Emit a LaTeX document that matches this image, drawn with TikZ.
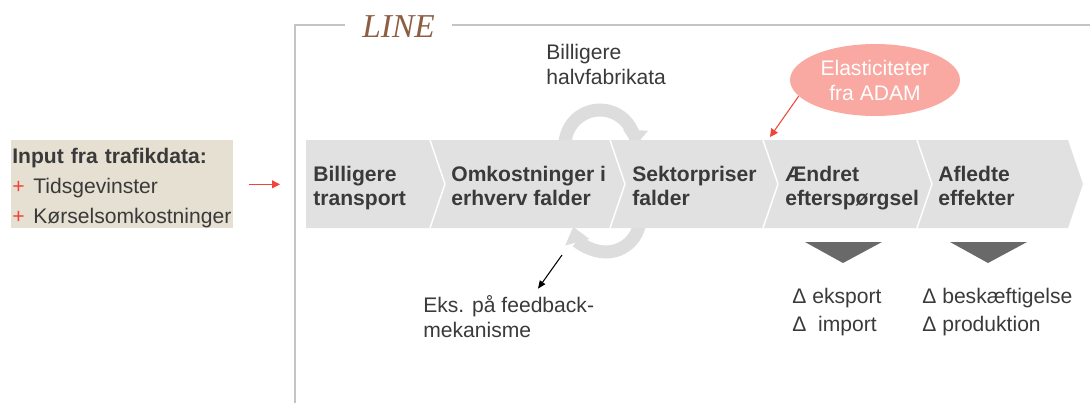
\documentclass[tikz,border=0pt]{standalone}
\usepackage{fontspec}
\setmainfont{Liberation Sans}
\newfontfamily\linefont{Liberation Serif}
\usetikzlibrary{shapes.geometric,arrows.meta}

\definecolor{bandgray}{HTML}{E1E1E1}
\definecolor{loopgray}{HTML}{DDDDDD}
\definecolor{boxbeige}{HTML}{E6E0D3}
\definecolor{framegray}{HTML}{C4C4C4}
\definecolor{txtgray}{HTML}{3A3A3A}
\definecolor{trigray}{HTML}{696969}
\definecolor{adamred}{HTML}{F9A9A2}
\definecolor{arrred}{HTML}{F0443A}
\definecolor{linebrown}{HTML}{8E5E42}

\begin{document}
\begin{tikzpicture}[
    x=0.02cm, y=-0.02cm,
 chevtext/.style = {
        anchor=base west, inner sep=0pt, align=left, text=txtgray,
        font=\fontsize{12}{13.2}\selectfont\bfseries},
plaintext/.style = {
        anchor=base west, inner sep=0pt, align=left, text=txtgray,
        font=\fontsize{12}{14.2}\selectfont},
  efftext/.style = {plaintext, font=\fontsize{12}{15.4}\selectfont},
    inbox/.style = {
        anchor=north west, fill=boxbeige, align=left, text=txtgray,
        inner xsep=0.02cm, inner ysep=0pt, text width=4.4cm,
        minimum height=1.76cm, font=\fontsize{12}{17}\selectfont},
  adambox/.style = {
        ellipse, fill=adamred, text=white, align=center, inner sep=0pt,
        minimum width=3.4cm, minimum height=1.44cm,
        font=\fontsize{12}{14.2}\selectfont},
 redarrow/.style = {arrred, line width=0.6pt,
        -{Triangle[length=0.16cm,width=0.16cm]}},
blackarrow/.style = {black, line width=0.6pt,
        -{Triangle[length=0.16cm,width=0.13cm]}},
looparrow/.style = {loopgray, line width=0.26cm,
        -{Triangle[length=0.32cm,width=0.48cm]}},
    frame/.style = {framegray, line width=1pt},
      tri/.style = {fill=trigray}
                    ]
\useasboundingbox (0,0) rectangle (1090,403);
% the frame with its title
\coordinate (ftop) at (295,25);
\node (title) [anchor=base west, inner xsep=0.34cm, inner ysep=0pt,
               text=linebrown, font=\linefont\itshape\fontsize{19}{19}\selectfont]
               at (345,37) {LINE};
\draw[frame] (295,403) -- (ftop) -- (ftop -| title.west);
\draw[frame] (ftop -| title.east) -- (1090,25);
% the two loops behind the band
\draw[looparrow] (565,145) arc[start angle=180, end angle=-2, radius=0.7cm];
\draw[looparrow] (640,218) arc[start angle=0, end angle=-165, radius=0.68cm];
% the band of chevrons
\fill[bandgray] (306,140) -- (1068,140) -- (1083,184) -- (1068,228)
                -- (306,228) -- cycle;
\foreach \sx in {430,610,763,917}
    \draw[white, line width=0.8pt] (\sx,140) -- (\sx+15,184) -- (\sx,228);
\node (c1) [chevtext] at (313,205) {Billigere\\transport};
\node (c2) [chevtext] at (451,205) {Omkostninger i\\erhverv falder};
\node (c3) [chevtext] at (632,205) {Sektorpriser\\falder};
\node (c4) [chevtext] at (785,205) {Ændret\\efterspørgsel};
\node (c5) [chevtext] at (938,205) {Afledte\\effekter};
% input on the left
\node (inp) [inbox] at (11,140) {\rule{0pt}{13.3pt}\textbf{Input fra trafikdata:}\\
        \makebox[0.42cm][l]{\textcolor{arrred}{+}}Tidsgevinster\\
        \makebox[0.42cm][l]{\textcolor{arrred}{+}}Kørselsomkostninger};
\draw[redarrow, shorten <=0.3cm, shorten >=0.66cm] (inp.east) -- (c1.west |- inp.east);
% labels round the loops
\node (halv) [plaintext] at (546,84) {Billigere\\halvfabrikata};
\node (feed) [plaintext] at (423,337) {Eks. på feedback-\\mekanisme};
\coordinate (fbstart) at (562,255);
\draw[blackarrow] (fbstart) -- ([xshift=2.3cm,yshift=0.12cm]feed.north west);
% elasticities
\node (adam) [adambox] at (875,80) {Elasticiteter\\fra ADAM};
\coordinate (elastend) at (770,137);
\draw[redarrow] (adam.192) -- (elastend);
% derived effects
\fill[tri] (805,242) -- (882,242) -- (843,263) -- cycle;
\fill[tri] (950,242) -- (1027,242) -- (988,263) -- cycle;
\node (d4) [efftext] at (792,331) {Δ eksport\\Δ\ \ import};
\node (d5) [efftext] at (922,331) {Δ beskæftigelse\\Δ produktion};
\end{tikzpicture}
\end{document}
